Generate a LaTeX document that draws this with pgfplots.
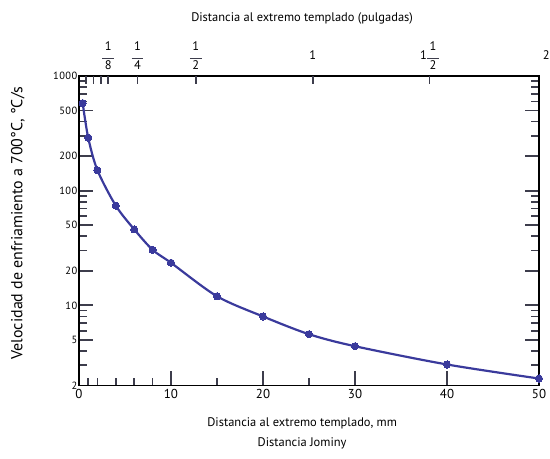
\documentclass[border=0pt]{standalone}
\usepackage{fontspec}
\setmainfont{PT Sans}
\newfontfamily\tickfont[LetterSpace=4]{PT Sans}
\usepackage{pgfplots}
\pgfplotsset{compat=1.18}
\definecolor{curve}{HTML}{3A3A9C}
\definecolor{tickgray}{rgb}{0.24,0.24,0.30}
\newcommand\fr[2]{{\renewcommand\arraystretch{0.85}\begin{tabular}{@{}c@{}}#1\\[-2.5pt]\textcolor{tickgray}{\rule{0.95em}{0.6pt}}\\[-1pt]#2\end{tabular}}}
\begin{document}
\begin{tikzpicture}
\begin{axis}[
  name=main,
  scale only axis, width=460bp, height=309.5bp,
  xmin=0, xmax=50, ymode=log, ymin=2, ymax=1000,
  axis line style={line width=1.8pt, black},
  /pgf/number format/assume math mode=true,
  clip mode=individual,
  xtick={0,10,20,30,40,50},
  minor xtick={1,2,4,6,8,15,25},
  ytick={2,5,10,20,50,100,200,500,1000},
  yticklabels={2,5,10,20,50,100,200,500,1000},
  minor ytick={3,4,6,7,8,9,30,40,60,70,80,90,300,400,600,700,800,900},
  tick align=inside,
  major tick length=0.5cm, minor tick length=0.28cm,
  tick style={line width=1.7pt},
  major tick style={tickgray},
  minor tick style={tickgray},
  xtick pos=left, ytick pos=both, yticklabel pos=left,
  xticklabel style={font=\fontsize{13}{13}\selectfont},
  yticklabel style={font=\tickfont\fontsize{10.5}{10.5}\selectfont, inner sep=1.5pt},
  extra x ticks={0.79375,1.5875,2.38125,3.175,6.35,12.7,25.4,38.1},
  extra x tick labels={,,,\fr18,\fr14,\fr12,1,1\fr12},
  extra x tick style={xtick pos=right, xticklabel pos=right, major tick length=0.27cm,
     major tick style={tickgray},
     xticklabel style={anchor=base, yshift=16bp, font=\fontsize{12.5}{12.5}\selectfont}},
  xlabel={Distancia al extremo templado, mm\\[6pt]Distancia Jominy},
  xlabel style={at={(axis description cs:0.485,0)}, anchor=north, yshift=-29bp, align=center, font=\fontsize{12.5}{14}\selectfont},
  ylabel={Velocidad de enfriamiento a 700°C, °C/s},
  ylabel style={at={(axis description cs:-0.1326,0.525)}, anchor=center, font=\fontsize{16}{16}\selectfont},
]
\addplot[curve, line width=2.2pt, smooth, tension=0.5, mark=*, mark size=3.6pt, mark options={fill=curve, draw=curve, line width=0pt}]
  coordinates {(0.4,580) (1,290) (2,151) (4,74) (6,46) (8,30.5) (10,23.5) (15,12) (20,8) (25,5.6) (30,4.4) (40,3.05) (50,2.3)};
\node[anchor=base, yshift=16bp, font=\fontsize{12.5}{12.5}\selectfont] at (axis cs:50.8,1000) {2};
\node[anchor=center, yshift=58bp, font=\fontsize{12.5}{12.5}\selectfont] at (axis description cs:0.485,1) {Distancia al extremo templado (pulgadas)};
\end{axis}
\pgfresetboundingbox
\path[use as bounding box] ([shift={(-79bp,-73.5bp)}]main.south west) rectangle ([shift={(11bp,76bp)}]main.north east);
\end{tikzpicture}
\end{document}
